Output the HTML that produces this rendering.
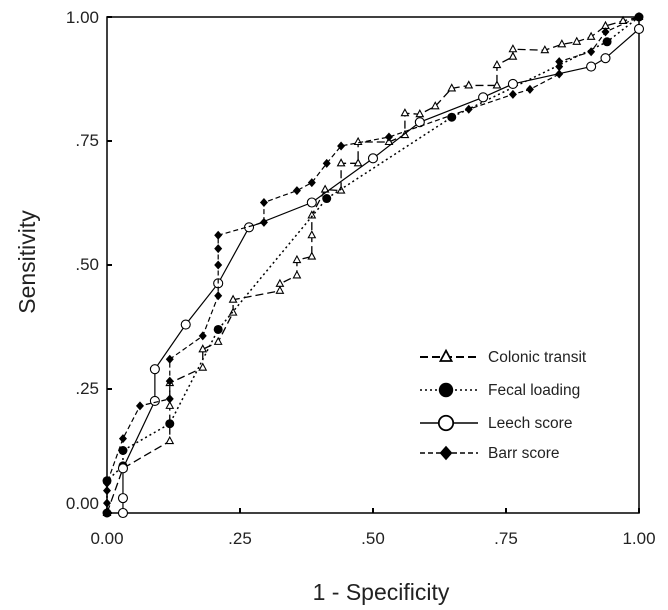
<!DOCTYPE html>
<html><head><meta charset="utf-8"><style>
body{margin:0;background:#fff;}
svg{display:block;font-family:"Liberation Sans",Arial,sans-serif;}
</style></head><body>
<svg id="c" width="668" height="610">
<g id="axes"></g>
<g id="series"></g>
<g id="legend"></g>
</svg>
<script>
const colonicX=[0,0.03,0.118,0.118,0.118,0.18,0.18,0.209,0.237,0.237,0.325,0.325,0.357,0.357,0.385,0.385,0.385,0.41,0.44,0.44,0.472,0.472,0.53,0.56,0.56,0.588,0.617,0.648,0.68,0.733,0.733,0.763,0.763,0.823,0.855,0.883,0.91,0.937,0.97,1];
const colonicY=[0,0.09,0.145,0.216,0.262,0.293,0.33,0.345,0.404,0.43,0.448,0.462,0.479,0.51,0.517,0.56,0.6,0.652,0.65,0.705,0.705,0.748,0.748,0.762,0.806,0.804,0.82,0.856,0.862,0.862,0.903,0.92,0.935,0.933,0.945,0.95,0.96,0.982,0.992,1];
const fecalX=[0,0,0.03,0.03,0.118,0.209,0.413,0.648,0.94,1];
const fecalY=[0,0.065,0.095,0.126,0.18,0.37,0.634,0.798,0.95,1];
const leechX=[0.03,0.03,0.03,0.09,0.09,0.148,0.209,0.267,0.385,0.5,0.588,0.707,0.763,0.91,0.937,1];
const leechY=[0,0.03,0.09,0.226,0.29,0.38,0.463,0.576,0.626,0.715,0.788,0.838,0.865,0.9,0.917,0.976];
const barrX=[0,0,0,0,0.03,0.062,0.118,0.118,0.118,0.18,0.209,0.209,0.209,0.209,0.295,0.295,0.357,0.385,0.413,0.44,0.53,0.68,0.763,0.795,0.85,0.85,0.85,0.91,0.937,1];
const barrY=[0,0.02,0.045,0.06,0.15,0.216,0.23,0.266,0.31,0.357,0.438,0.5,0.533,0.56,0.586,0.626,0.65,0.666,0.705,0.74,0.758,0.814,0.844,0.854,0.885,0.9,0.91,0.93,0.97,1];
const tickVals=[0,0.25,0.5,0.75,1];
const xTickLabels=["0.00",".25",".50",".75","1.00"];
const yTickLabels=["0.00",".25",".50",".75","1.00"];
const legendLabels=["Colonic transit","Fecal loading","Leech score","Barr score"];

const NS="http://www.w3.org/2000/svg";
const X=v=>107+532*v, Y=v=>513-496*v;
function mk(tag,at,parent){const e=document.createElementNS(NS,tag);for(const k in at)e.setAttribute(k,at[k]);parent.appendChild(e);return e;}
const axes=document.getElementById('axes'),ser=document.getElementById('series'),leg=document.getElementById('legend');
let fr=mk('rect',{x:107,y:17,width:532,height:496,fill:'none',stroke:'#000','stroke-width':1.5},axes);


const yLabelPos=[503,388,264,140,17];
tickVals.forEach((v,i)=>{
 let t=mk('line',{x1:X(v),x2:X(v),y1:513,y2:508,stroke:'#000','stroke-width':2},axes);
 
 
 let tx=mk('text',{x:X(v),y:544,'text-anchor':'middle','font-size':17,fill:'#222'},axes);tx.textContent=xTickLabels[i];
 
 
 let t2=mk('line',{x1:107,x2:112,y1:Y(v),y2:Y(v),stroke:'#000','stroke-width':2},axes);
 
 
 let ty=mk('text',{x:99,y:yLabelPos[i]+6,'text-anchor':'end','font-size':17,fill:'#222'},axes);ty.textContent=yTickLabels[i];
 
 
});
let xt=mk('text',{x:381,y:600,'text-anchor':'middle','font-size':23,fill:'#222'},axes);xt.textContent='1 - Specificity';


let yt=mk('text',{x:35,y:262,'text-anchor':'middle','font-size':23,fill:'#222',transform:'rotate(-90 35 262)'},axes);yt.textContent='Sensitivity';



function marker(type,x,y,g){
 if(type==='tri') return mk('path',{d:`M${x} ${y-4}L${x+3.5} ${y+2.5}L${x-3.5} ${y+2.5}Z`,fill:'#fff',stroke:'#000','stroke-width':1.1},g);
 if(type==='fcirc') return mk('circle',{cx:x,cy:y,r:4.5,fill:'#000'},g);
 if(type==='ocirc') return mk('circle',{cx:x,cy:y,r:4.5,fill:'#fff',stroke:'#000','stroke-width':1.1},g);
 return mk('path',{d:`M${x} ${y-4.5}L${x+4} ${y}L${x} ${y+4.5}L${x-4} ${y}Z`,fill:'#000'},g);
}
const defs=[
 {name:'colonic-transit',xs:colonicX,ys:colonicY,dash:'8,4',w:1.3,m:'tri'},
 {name:'fecal-loading',xs:fecalX,ys:fecalY,dash:'2,3',w:1.5,m:'fcirc'},
 {name:'leech-score',xs:leechX,ys:leechY,dash:'',w:1.2,m:'ocirc'},
 {name:'barr-score',xs:barrX,ys:barrY,dash:'5,3',w:1.2,m:'dia'}];
defs.forEach(s=>{
 const g=mk('g',{},ser);
 
 
 const pts=s.xs.map((v,i)=>X(v)+','+Y(s.ys[i])).join(' ');
 const pl=mk('polyline',{points:pts,fill:'none',stroke:'#000','stroke-width':s.w,'stroke-dasharray':s.dash},g);
 
 
 s.xs.forEach((v,i)=>{const mm=marker(s.m,X(v),Y(s.ys[i]),g);
  
  });
});
const legY=[357,390,423,453];
defs.forEach((s,i)=>{
 const g=mk('g',{},leg);
 
 
 mk('line',{x1:420,x2:478,y1:legY[i],y2:legY[i],stroke:'#000','stroke-width':s.m==='tri'?2:1.5,'stroke-dasharray':s.dash},g);
 const mm=marker(s.m,446,legY[i],g);
 mm.setAttribute('transform',`translate(446 ${legY[i]}) scale(1.6) translate(-446 ${-legY[i]})`);
 const t=mk('text',{x:488,y:legY[i]+5,'font-size':15.5,fill:'#222'},g);t.textContent=legendLabels[i];
});
</script>
</body></html>
